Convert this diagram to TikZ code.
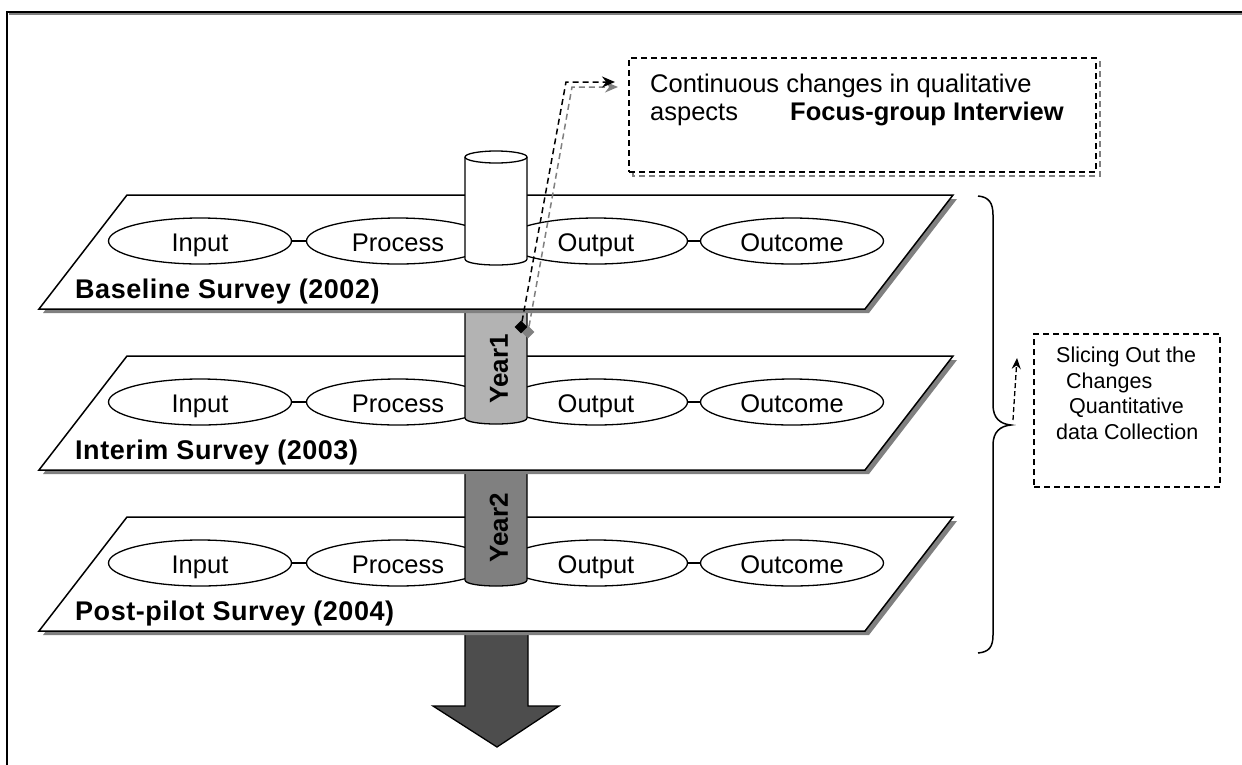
\documentclass[tikz,border=0pt]{standalone}
\usepackage{fontspec}
\setmainfont{Liberation Sans}
\newfontfamily\lblfont{Liberation Sans}[LetterSpace=2]
\usetikzlibrary{shapes.geometric,arrows.meta}
\definecolor{shadowgray}{HTML}{808080}
\definecolor{yearone}{HTML}{B3B3B3}
\definecolor{yeartwo}{HTML}{808080}
\definecolor{arrowgray}{HTML}{4D4D4D}
\tikzset{
  stage/.style={ellipse, draw, fill=white, line width=1.3pt, minimum width=183pt, minimum height=46pt, inner sep=0pt, text height=20pt, text depth=0pt, font=\fontsize{25.5}{30}\selectfont},
  link/.style={line width=1.3pt},
  plane/.style={draw, fill=white, line width=1.5pt, line join=miter},
  planeshadow/.style={fill=shadowgray},
  planelabel/.style={anchor=base west, inner sep=0pt, font=\lblfont\bfseries\fontsize{27}{30}\selectfont},
  cylside/.style={line width=1.3pt},
  yearlabel/.style={rotate=90, inner sep=0pt, font=\bfseries\fontsize{26}{30}\selectfont},
  bodytext/.style={anchor=base west, inner sep=0pt, font=\fontsize{25.5}{30}\selectfont},
  boldtext/.style={anchor=base west, inner sep=0pt, font=\bfseries\fontsize{25.5}{30}\selectfont},
  smalltext/.style={anchor=base west, inner sep=0pt, font=\fontsize{21.5}{25}\selectfont},
  dashbox/.style={draw, dash pattern=on 6pt off 4pt, line width=1.5pt, inner sep=0pt},
  dasharrow/.style={dash pattern=on 6pt off 4pt, line width=1.5pt, -{Stealth[length=13pt,width=11pt]}},
}
\newcommand{\drawplane}[3]{% #1 top y, #2 suffix, #3 label
  \begin{scope}[shift={(0,#1)}]
    \fill[planeshadow] (131,4) -- (957,4) -- (869,118) -- (43,118) -- cycle;
    \path[plane] (127,0) -- (953,0) -- (865,114) -- (39,114) -- cycle;
    \node[stage] (in#2) at (200,46) {Input};
    \node[stage] (pr#2) at (398,46) {Process};
    \node[stage] (out#2) at (596,46) {Output};
    \node[stage] (oc#2) at (792,46) {Outcome};
    \draw[link] (in#2) -- (pr#2);
    \draw[link] (pr#2) -- (out#2);
    \draw[link] (out#2) -- (oc#2);
    \node[planelabel] (lab#2) at (75,103) {#3};
  \end{scope}}
\newcommand{\drawcyl}[3]{% #1 top y, #2 side bottom y, #3 fill
  \fill[#3] (465,#1) -- (465,#2) .. controls (465,#2+8) and (527,#2+8) .. (527,#2) -- (527,#1) -- cycle;
  \draw[cylside] (465,#1) -- (465,#2) .. controls (465,#2+8) and (527,#2+8) .. (527,#2) -- (527,#1);}
\begin{document}
\begin{tikzpicture}[x=1pt,y=-1pt]
\useasboundingbox (0,0) rectangle (1242,764);
% frame
\draw[shadowgray, line width=1.5pt] (9,14) -- (1250,14);
\draw[line width=2pt] (7,780) -- (7,12) -- (1250,12);
% big arrow
\draw[fill=arrowgray, line width=1.3pt, line join=miter] (465,625) -- (465,706) -- (433,706) -- (497,747) -- (559,706) -- (528,706) -- (528,625) -- cycle;
% plane 3
\drawplane{517}{c}{Post-pilot Survey (2004)}
% Year2
\drawcyl{468}{580}{yeartwo}
\node[yearlabel] (year2) at (499,528) {Year2};
% plane 2
\drawplane{356}{b}{Interim Survey (2003)}
% Year1
\drawcyl{306}{418}{yearone}
\node[yearlabel] (year1) at (499,369) {Year1};
% plane 1
\drawplane{195}{a}{Baseline Survey (2002)}
% white cylinder
\drawcyl{157}{259}{white}
\draw[cylside, fill=white] (496,157) ellipse [x radius=31, y radius=6];
% focus box
\draw[shadowgray, dash pattern=on 6pt off 4pt, line width=1.5pt] (633,62) rectangle (1100,176);
\node[dashbox, fill=white, minimum width=467pt, minimum height=114pt] (focus) at (862.5,115) {};
\node[bodytext] (f1) at (650,92.5) {Continuous changes in qualitative};
\node[bodytext] (f2) at (650,120) {aspects};
\node[boldtext] (f3) at (790,120) {Focus-group Interview};
% markers and dashed arrows
\node[fill=shadowgray, minimum size=9pt, inner sep=0pt, rotate=45] (sq2) at (528,332) {};
\node[fill=black, minimum size=9pt, inner sep=0pt, rotate=45] (sq1) at (521,327) {};
\coordinate (c1) at (566,82);
\coordinate (c2) at (572,87);
\coordinate (t1) at (615,82);
\coordinate (t2) at (618,87);
\draw[dasharrow, shadowgray] (sq2) -- (c2) -- (t2);
\draw[dasharrow] (sq1) -- (c1) -- (t1);
% brace
\draw[line width=1.5pt] (978,196) .. controls (989,197) and (993,203) .. (993,215) -- (993,405) .. controls (993,418) and (1000,424) .. (1011,425) .. controls (1000,426) and (993,432) .. (993,445) -- (993,635) .. controls (993,647) and (989,652) .. (978,653);
\coordinate (btip) at (1013,420);
\coordinate (bend) at (1017,358);
\draw[dash pattern=on 5pt off 3pt, line width=1.3pt, -{Stealth[length=11pt,width=9pt]}] (btip) -- (bend);
% right box
\node[dashbox, minimum width=186pt, minimum height=153pt] (slice) at (1127,410.5) {};
\node[smalltext] (s1) at (1056,362.5) {Slicing Out the};
\node[smalltext] (s2) at (1066,388) {Changes};
\node[smalltext] (s3) at (1069,413.5) {Quantitative};
\node[smalltext] (s4) at (1056,439) {data Collection};
\end{tikzpicture}
\end{document}
